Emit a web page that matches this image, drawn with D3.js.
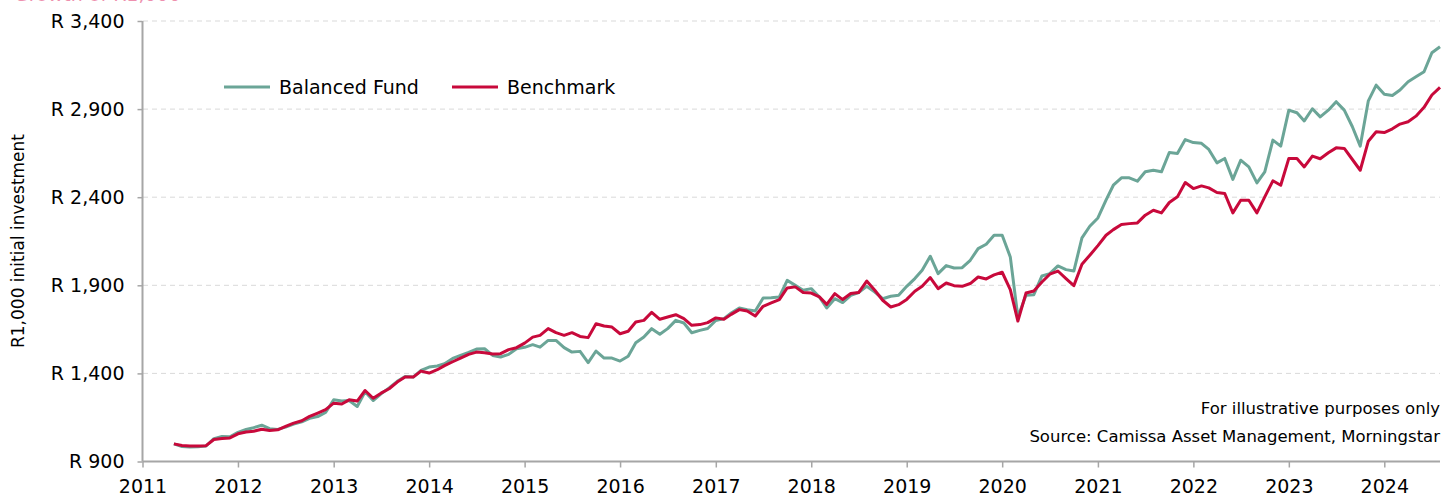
<!DOCTYPE html>
<html>
<head>
<meta charset="utf-8">
<script src="https://cdn.jsdelivr.net/npm/d3@7"></script>
<style>
    body { margin: 0; background: #ffffff; }
    svg { display: block; font-family: "DejaVu Sans", Verdana, sans-serif; }
</style>
</head>
<body>
<div id="chart"></div>
<script>
// monthly values, first point May 2011 (R1,000 start)
var startMonth = new Date(2011, 4, 1);

var fundValues = [
    1000, 985, 982, 984, 988, 1030, 1042, 1040, 1065, 1082,
    1092, 1106, 1086, 1082, 1095, 1112, 1125, 1145, 1155, 1178,
    1250, 1243, 1246, 1212, 1296, 1246, 1284, 1318, 1355, 1383,
    1379, 1417, 1436, 1442, 1455, 1485, 1502, 1519, 1538, 1540,
    1502, 1493, 1508, 1540, 1548, 1563, 1549, 1587, 1587, 1546,
    1521, 1525, 1461, 1527, 1487, 1487, 1470, 1497, 1574, 1606,
    1654, 1622, 1654, 1701, 1686, 1631, 1644, 1655, 1700, 1711,
    1743, 1771, 1762, 1754, 1828, 1830, 1834, 1928, 1900, 1872,
    1881, 1834, 1771, 1824, 1802, 1843, 1859, 1894, 1862, 1824,
    1838, 1843, 1894, 1938, 1985, 2065, 1966, 2012, 1998, 2000,
    2042, 2108, 2133, 2184, 2184, 2061, 1720, 1843, 1847, 1953,
    1966, 2010, 1989, 1981, 2169, 2235, 2282, 2383, 2468, 2510,
    2510, 2491, 2544, 2553, 2544, 2654, 2648, 2727, 2710, 2706,
    2671, 2595, 2620, 2501, 2610, 2572, 2481, 2544, 2724, 2690,
    2894, 2879, 2833, 2902, 2856, 2894, 2942, 2894, 2800, 2690,
    2947, 3036, 2984, 2977, 3008, 3055, 3083, 3112, 3220, 3254
];

var benchmarkValues = [
    1000, 991, 988, 988, 990, 1025, 1030, 1034, 1057, 1067,
    1072, 1083, 1076, 1080, 1099, 1118, 1131, 1156, 1175, 1194,
    1231, 1226, 1250, 1243, 1303, 1259, 1288, 1313, 1351, 1379,
    1379, 1413, 1402, 1421, 1444, 1466, 1487, 1508, 1521, 1517,
    1510, 1512, 1535, 1546, 1572, 1606, 1616, 1654, 1631, 1616,
    1631, 1610, 1603, 1682, 1669, 1663, 1625, 1639, 1692, 1701,
    1747, 1707, 1720, 1733, 1711, 1673, 1677, 1688, 1715, 1707,
    1735, 1762, 1754, 1726, 1781, 1800, 1819, 1885, 1891, 1859,
    1856, 1834, 1792, 1853, 1819, 1853, 1859, 1924, 1872, 1815,
    1777, 1790, 1820, 1866, 1894, 1944, 1881, 1913, 1898, 1894,
    1910, 1947, 1936, 1959, 1974, 1876, 1697, 1856, 1868, 1919,
    1963, 1981, 1938, 1898, 2019, 2070, 2125, 2184, 2216, 2245,
    2250, 2254, 2298, 2326, 2311, 2370, 2402, 2483, 2449, 2464,
    2453, 2427, 2421, 2311, 2383, 2383, 2311, 2402, 2493, 2468,
    2620, 2620, 2572, 2633, 2618, 2652, 2680, 2677, 2614, 2553,
    2718, 2771, 2767, 2788, 2815, 2828, 2860, 2910, 2980, 3023
];

var seriesNames = ["Balanced Fund", "Benchmark"];
var yTickValues = [900, 1400, 1900, 2400, 2900, 3400];
var yearTicks = d3.range(2011, 2025);
var footnotes = ["For illustrative purposes only", "Source: Camissa Asset Management, Morningstar"];

var width = 1446;
var height = 497;
var colour = d3.scaleOrdinal().domain(seriesNames).range(["#6ba597", "#c8093b"]);

var svg = d3.select("#chart").append("svg")
    .attr("width", width)
    .attr("height", height);

var xScale = d3.scaleTime()
    .domain([new Date(2011, 0, 1), new Date(2024, 7, 1)])
    .range([142.5, 1440]);

var yScale = d3.scaleLinear()
    .domain([900, 3400])
    .range([461.5, 21]);

var series = [
    { key: seriesNames[0], values: fundValues },
    { key: seriesNames[1], values: benchmarkValues }
];

// title sits mostly above the picture, only its lower edge shows
svg.append("text")
    .attr("x", 14)
    .attr("y", 1)
    .attr("fill", "#e3477a")
    .attr("opacity", 0.6)
    .style("font-size", "19px")
    .text("Growth of R1,000");

// gridlines
svg.append("g")
    .attr("class", "grid")
    .selectAll("line")
    .data(yTickValues)
    .enter()
    .append("line")
    .attr("x1", 143)
    .attr("x2", 1440)
    .attr("y1", function(d) { return yScale(d); })
    .attr("y2", function(d) { return yScale(d); })
    .attr("stroke", "#d9d9d9")
    .attr("stroke-width", 1)
    .attr("stroke-dasharray", "5,4");

// y axis
var yAxis = d3.axisLeft(yScale)
    .tickValues(yTickValues)
    .tickSize(5)
    .tickPadding(13)
    .tickFormat(function(d) { return "R " + d3.format(",")(d); });

var yAxisContainer = svg.append("g")
    .attr("transform", "translate(142.5,0)")
    .call(yAxis);

// x axis
var xAxis = d3.axisBottom(xScale)
    .tickValues(yearTicks.map(function(y) { return new Date(y, 0, 1); }))
    .tickSize(6)
    .tickPadding(12)
    .tickFormat(d3.timeFormat("%Y"));

var xAxisContainer = svg.append("g")
    .attr("transform", "translate(0,461.5)")
    .call(xAxis);

[yAxisContainer, xAxisContainer].forEach(function(axis) {
    axis.select(".domain").attr("stroke", "#a6a6a6").attr("stroke-width", 2);
    axis.selectAll(".tick line").attr("stroke", "#a6a6a6").attr("stroke-width", 1.5);
    axis.selectAll("text")
        .attr("fill", "#000000")
        .style("font-size", "19px")
        .style("font-family", "'DejaVu Sans', Verdana, sans-serif");
});
yAxisContainer.select(".domain").attr("d", "M0,21V461.5");
xAxisContainer.select(".domain").attr("d", "M142.5,0H1440");

// y axis title
svg.append("text")
    .attr("transform", "translate(24,241) rotate(-90)")
    .attr("text-anchor", "middle")
    .style("font-size", "17px")
    .text("R1,000 initial investment");

// the lines
var line = d3.line()
    .x(function(d, i) { return xScale(d3.timeMonth.offset(startMonth, i)); })
    .y(function(d) { return yScale(d); });

svg.append("g")
    .attr("class", "series")
    .selectAll("path")
    .data(series)
    .enter()
    .append("path")
    .attr("fill", "none")
    .attr("stroke", function(d) { return colour(d.key); })
    .attr("stroke-width", 3)
    .attr("stroke-linejoin", "round")
    .attr("d", function(d) { return line(d.values); });

// legend
var legendX = [224, 452];
var legend = svg.append("g")
    .selectAll("g")
    .data(seriesNames)
    .enter()
    .append("g")
    .attr("transform", function(d, i) { return "translate(" + legendX[i] + ",87)"; });

legend.append("line")
    .attr("x1", 0)
    .attr("x2", 46)
    .attr("stroke", function(d) { return colour(d); })
    .attr("stroke-width", 3);

legend.append("text")
    .attr("x", 55)
    .attr("y", 7)
    .style("font-size", "19px")
    .text(function(d) { return d; });

// footnotes
svg.append("g")
    .selectAll("text")
    .data(footnotes)
    .enter()
    .append("text")
    .attr("x", 1440)
    .attr("y", function(d, i) { return 414 + i * 27.5; })
    .attr("text-anchor", "end")
    .style("font-size", "16.5px")
    .text(function(d) { return d; });
</script>
</body>
</html>
